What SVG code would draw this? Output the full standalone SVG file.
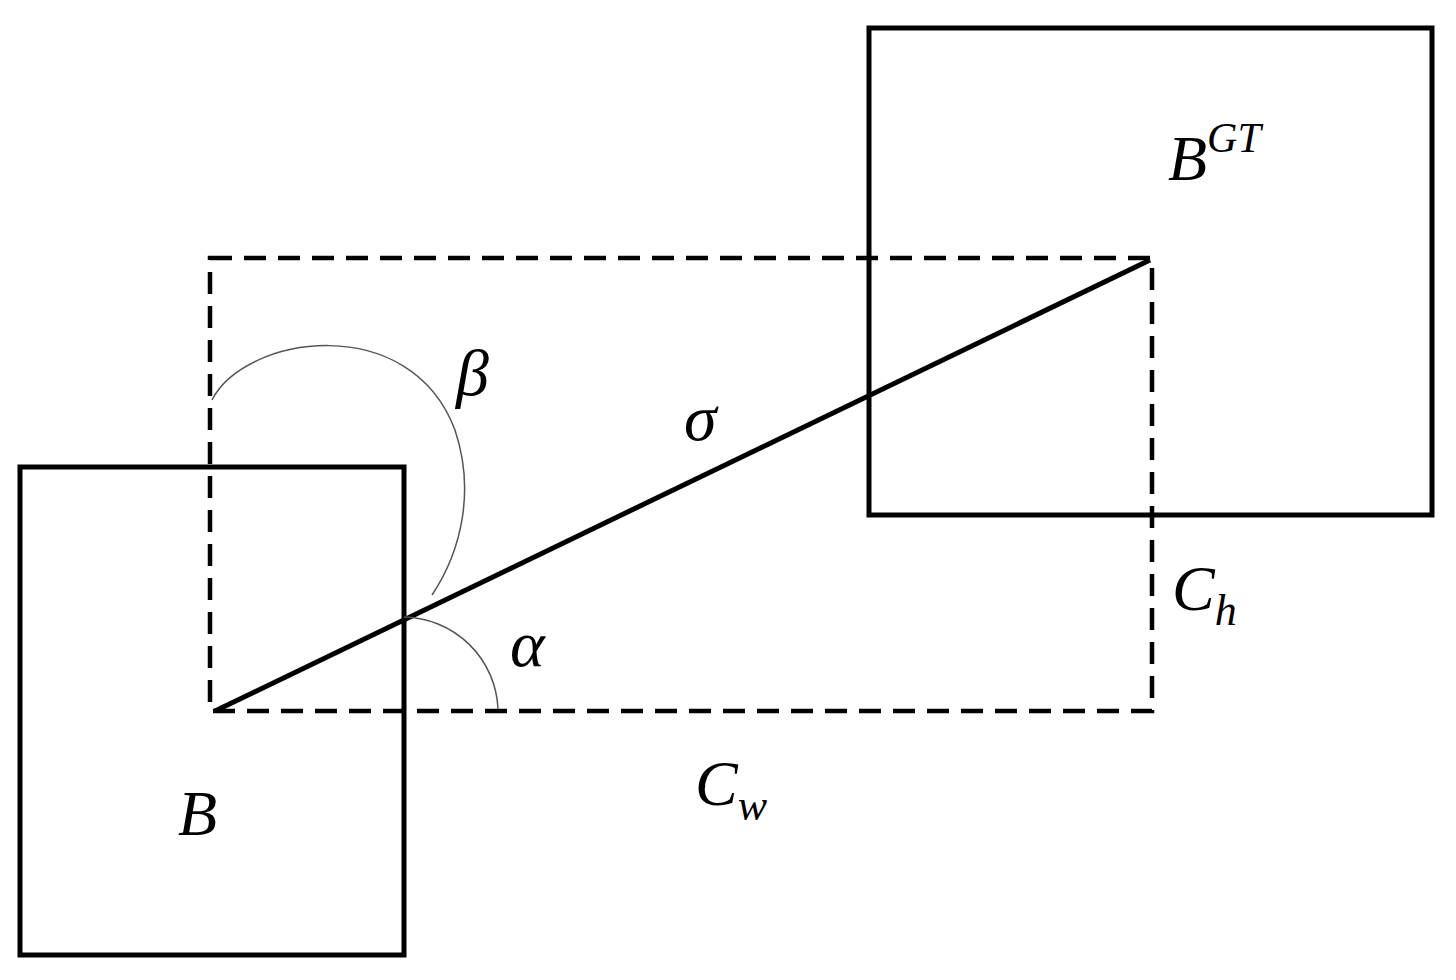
<svg xmlns="http://www.w3.org/2000/svg" width="1456" height="980" viewBox="0 0 1456 980">
<style>
.box{fill:none;stroke:#000;stroke-width:5}
.dash{fill:none;stroke:#000;stroke-width:4.5;stroke-dasharray:22 12}
.arc{fill:none;stroke:#555;stroke-width:1.5}
text{font-family:"Liberation Serif",serif;font-style:italic;fill:#000}
</style>
<rect width="1456" height="980" fill="#fff"/>
<g id="B"><rect class="box" x="20" y="467" width="384" height="488"/><text x="178" y="835" font-size="64">B</text></g>
<g id="BGT"><rect class="box" x="869" y="28" width="563" height="487"/><text x="1168" y="180" font-size="64">B<tspan font-size="42" dy="-28">GT</tspan></text></g>
<g id="C"><rect class="dash" x="210" y="258" width="942" height="453"/></g>
<g id="connectors">
<line x1="215" y1="711" x2="1150" y2="260" stroke="#000" stroke-width="5"/>
<path class="arc" d="M498 709 A96 96 0 0 0 404 617"/>
<path class="arc" d="M212 400 C245 335 410 310 455 430 C475 490 462 550 432 595"/>
</g>
<g id="labels">
<text x="456" y="395" font-size="66">β</text>
<text x="684" y="440" font-size="66">σ</text>
<text x="510" y="666" font-size="66">α</text>
<text x="1172" y="610" font-size="64">C<tspan font-size="44" dy="15">h</tspan></text>
<text x="695" y="805" font-size="64">C<tspan font-size="44" dy="15">w</tspan></text>
</g>
</svg>
